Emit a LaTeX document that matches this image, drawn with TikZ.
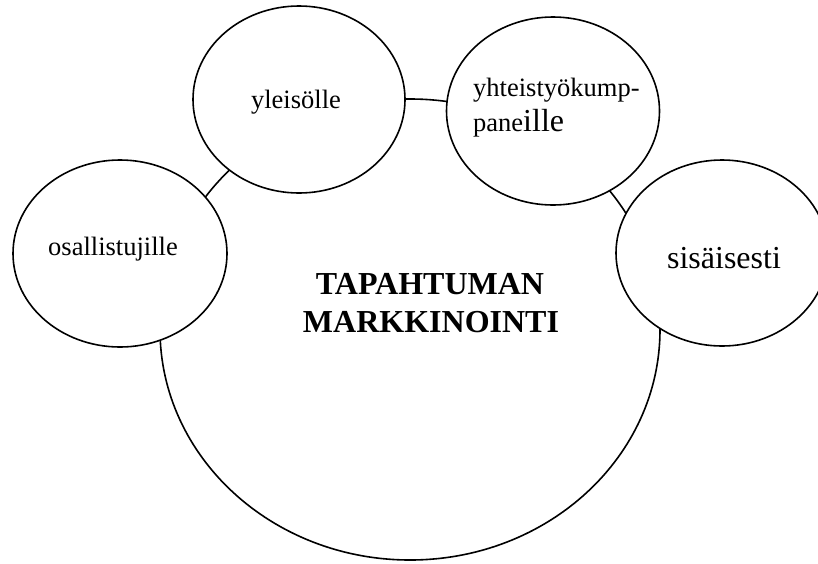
\documentclass[tikz,border=0pt]{standalone}
\usepackage{fontspec}
\setmainfont{Liberation Serif}
\usetikzlibrary{shapes.geometric}
\tikzset{
  bubble/.style={draw, ellipse, line width=1.6pt, fill=white, inner sep=0pt},
  pieni/.style={font=\fontsize{26.5}{30}\selectfont, inner sep=0pt},
  iso/.style={font=\fontsize{32}{36}\selectfont, inner sep=0pt},
}
\begin{document}
\begin{tikzpicture}[x=1pt,y=-1pt]
  \useasboundingbox (0,0) rectangle (818,563);
  % iso ellipsi ensin, pienet sen paalle
  \node[bubble, minimum width=500pt, minimum height=461pt] (markkinointi) at (410,329.5) {};
  \node[bubble, minimum width=214pt, minimum height=187pt] (osallistujat) at (120,253.5) {};
  \node[bubble, minimum width=212pt, minimum height=187pt] (yleiso) at (299,99.5) {};
  \node[bubble, minimum width=213pt, minimum height=188pt] (kumppanit) at (553,111) {};
  \node[bubble, minimum width=212pt, minimum height=186pt] (sisainen) at (722,253) {};
  % tekstit
  \node[pieni, anchor=base] (t-osallistujat) at (113,255) {osallistujille};
  \node[pieni, anchor=base] (t-yleiso) at (296,108) {yleisölle};
  \node[pieni, anchor=base west] (t-kumppanit1) at (473,96) {yhteistyökump-};
  \node[pieni, anchor=base west] (t-kumppanit2) at (473,131) {pane{\fontsize{32}{36}\selectfont ille}};
  \node[iso, anchor=base] (t-sisainen) at (724,268) {sisäisesti};
  \node[iso, font=\fontsize{32}{36}\selectfont\bfseries, anchor=base] (otsikko1) at (430,294) {TAPAHTUMAN};
  \node[iso, font=\fontsize{32}{36}\selectfont\bfseries, anchor=base] (otsikko2) at (431,332) {MARKKINOINTI};
\end{tikzpicture}
\end{document}
